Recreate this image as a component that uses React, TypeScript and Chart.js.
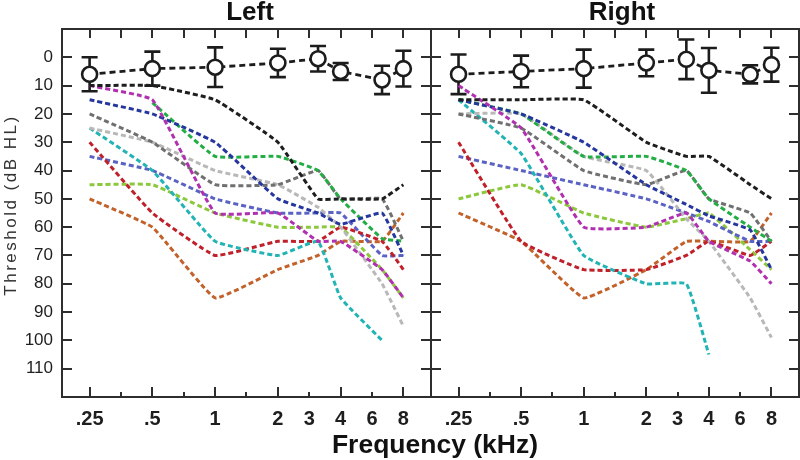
import React, { useEffect, useRef } from "react";
import { Chart, registerables } from "chart.js";

Chart.register(...registerables);

const FONT = "'Liberation Sans', Arial, Helvetica, sans-serif";
Chart.defaults.font.family = FONT;

// Tested frequencies (kHz) and their place on the audiogram octave axis
const freqs = [0.25, 0.5, 1, 2, 3, 4, 6, 8];
const freqPos = [0, 1, 2, 3, 3.64, 4, 4.66, 5];

// X-axis labels (octave positions) and tick positions
const xLabelPos = [0, 1, 2, 3, 3.5, 4, 4.5, 5];
const xLabelText = [".25", ".5", "1", "2", "3", "4", "6", "8"];
const xMajorPos = [0, 1, 2, 3, 4, 5];
const xMinorPos = [0.5, 1.5, 2.5, 3.5, 4.5];
const yTickValues = [0, 10, 20, 30, 40, 50, 60, 70, 80, 90, 100, 110];

// Group mean thresholds (dB HL) and SD
const meanLeft = [6, 4, 3.5, 2, 0.5, 5, 8, 4];
const sdLeft = [6, 6, 7, 5, 4.5, 3, 5, 6.3];
const meanRight = [6, 5, 4, 2, 0.7, 4.6, 6, 2.6];
const sdRight = [7, 5.6, 6.7, 4.7, 7, 7.9, 3.2, 6];

// Individual subject colours
const subjectColors = [
  "#1e1e1e", // black
  "#b030b0", // magenta
  "#25369e", // navy
  "#22ad45", // green
  "#707070", // dark grey
  "#b8b8b8", // light grey
  "#22b4b4", // cyan
  "#c0202a", // red
  "#5a62c4", // slate blue
  "#8cc83c", // lime
  "#c2622a", // orange
];

// Individual thresholds, left ear
const L_black = [10, 10, 15, 30, 50, 50, 50, 45];
const L_magenta = [10, 15, 55, 55, 65, 65, 75, 85];
const L_navy = [15, 20, 30, 50, 55, 59, 55, 70];
const L_green = [null, 16, 35, 35, 40, 50, 64, 65];
const L_grey = [20, 30, 45, 45, 40, 50, 50, 65];
const L_ltgrey = [25, 30, 40, 45, 53, 60, 80, 95];
const L_cyan = [25, 40, 65, 70, 65, 85, 100, null];
const L_red = [30, 55, 70, 65, 65, 60, 65, 75];
const L_slate = [35, 40, 50, 55, 55, 55, 70, 70];
const L_lime = [45, 45, 55, 60, 60, 60, 75, 85];
const L_orange = [50, 60, 85, 75, 70, 65, 65, 55];

// Individual thresholds, right ear
const R_black = [15, 15, 15, 30, 35, 35, 45, 50];
const R_magenta = [10, 25, 60, 60, 55, 65, 72, 80];
const R_navy = [15, 20, 30, 45, 52, 56, 61, 75];
const R_green = [15, 20, 35, 35, 40, 50, 60, 65];
const R_grey = [20, 25, 40, 45, 40, 50, 55, 65];
const R_ltgrey = [20, 20, 35, 40, 57, 65, 85, 99];
const R_cyan = [15, 34, 70, 80, 80, 105, null, null];
const R_red = [30, 65, 75, 75, 70, 65, 70, 65];
const R_slate = [35, 40, 45, 50, 55, 58, 65, 65];
const R_lime = [50, 45, 55, 60, 57, 55, 68, 75];
const R_orange = [55, 65, 85, 75, 65, 65, 65, 55];

const leftSubjects = [L_black, L_magenta, L_navy, L_green, L_grey, L_ltgrey, L_cyan, L_red, L_slate, L_lime, L_orange];
const rightSubjects = [R_black, R_magenta, R_navy, R_green, R_grey, R_ltgrey, R_cyan, R_red, R_slate, R_lime, R_orange];

const AXIS = "#2e2e2e";
const MEAN = "#1c1c1c";

const toPoints = (vals: (number | null)[]) =>
  freqs.map((f, i) => ({ x: freqPos[i], y: vals[i] as any, f }));

const errorBarPlugin = {
  id: "errorBars",
  beforeDatasetsDraw(chart: any) {
    const ds = chart.data.datasets[0] as any;
    const sds: number[] = ds.errors;
    if (!sds) return;
    const { ctx, scales } = chart;
    const x = scales.x, y = scales.y;
    ctx.save();
    ctx.strokeStyle = MEAN;
    ctx.lineWidth = 2.6;
    ctx.setLineDash([]);
    ds.data.forEach((p: any, i: number) => {
      const px = x.getPixelForValue(p.x);
      const yt = y.getPixelForValue(p.y - sds[i]);
      const yb = y.getPixelForValue(p.y + sds[i]);
      ctx.beginPath();
      ctx.moveTo(px, yt);
      ctx.lineTo(px, yb);
      ctx.moveTo(px - 8, yt);
      ctx.lineTo(px + 8, yt);
      ctx.moveTo(px - 8, yb);
      ctx.lineTo(px + 8, yb);
      ctx.stroke();
    });
    ctx.restore();
  },
};

const framePlugin = {
  id: "frame",
  afterDraw(chart: any) {
    const ctx = chart.ctx;
    const a = chart.chartArea;
    const x = chart.scales.x;
    const y = chart.scales.y;
    const L = Math.round(a.left), R = Math.round(a.right);
    const T = Math.round(a.top), B = Math.round(a.bottom);
    ctx.save();
    ctx.setLineDash([]);
    ctx.fillStyle = AXIS;
    // frame
    ctx.fillRect(L - 1, T - 1, R - L + 2, 2);
    ctx.fillRect(L - 1, B - 1, R - L + 2, 2);
    ctx.fillRect(L - 1, T - 1, 2, B - T + 2);
    ctx.fillRect(R - 1, T - 1, 2, B - T + 2);
    // y ticks, inward on both sides
    for (let i = 0; i < yTickValues.length; i++) {
      const py = Math.round(y.getPixelForValue(yTickValues[i]));
      ctx.fillRect(L, py - 1, 10, 2);
      ctx.fillRect(R - 10, py - 1, 10, 2);
    }
    // x ticks, inward on top and bottom
    for (let i = 0; i < xMajorPos.length; i++) {
      const px = Math.round(x.getPixelForValue(xMajorPos[i]));
      ctx.fillRect(px - 1, B - 10, 2, 10);
      ctx.fillRect(px - 1, T, 2, 9);
    }
    for (let i = 0; i < xMinorPos.length; i++) {
      const px = Math.round(x.getPixelForValue(xMinorPos[i]));
      ctx.fillRect(px - 1, B - 5, 2, 5);
      ctx.fillRect(px - 1, T, 2, 9);
    }
    ctx.restore();
  },
};

type PanelProps = {
  mean: number[];
  sd: number[];
  subjects: (number | null)[][];
  showY: boolean;
  left: number;
  width: number;
};

function Panel({ mean, sd, subjects, showY, left, width }: PanelProps) {
  const ref = useRef<HTMLCanvasElement>(null);
  useEffect(() => {
    const meanDs: any = {
      data: toPoints(mean),
      errors: sd,
      borderColor: MEAN,
      borderWidth: 2.8,
      borderDash: [6, 4],
      pointRadius: 7.5,
      pointBorderWidth: 2.6,
      pointBorderColor: MEAN,
      pointBackgroundColor: "#ffffff",
      tension: 0,
    };
    const subjDs = subjects.map((vals, i) => ({
      data: toPoints(vals),
      borderColor: subjectColors[i],
      borderWidth: 3,
      borderDash: [5, 3],
      pointRadius: 0,
      tension: 0.1,
      spanGaps: false,
    }));
    const chart = new Chart(ref.current!, {
      type: "line",
      data: { datasets: [meanDs, ...subjDs] },
      options: {
        animation: false,
        responsive: false,
        devicePixelRatio: 1,
        events: [],
        layout: { autoPadding: false, padding: { top: 29, right: 1, left: 0, bottom: 0 } },
        plugins: { legend: { display: false }, tooltip: { enabled: false }, title: { display: false } },
        scales: {
          x: {
            type: "linear",
            min: -0.44,
            max: 5.44,
            grid: { display: false, drawTicks: false },
            border: { display: false },
            afterBuildTicks: (s: any) => {
              s.ticks = xLabelPos.map((v) => ({ value: v }));
            },
            afterFit: (s: any) => {
              s.height = 63;
              s.paddingLeft = 0;
              s.paddingRight = 0;
            },
            ticks: {
              autoSkip: false,
              maxRotation: 0,
              padding: 10,
              color: "#1e1e1e",
              font: { size: 20, weight: "bold", family: FONT },
              callback: (_v: any, i: number) => xLabelText[i],
            },
          },
          y: {
            type: "linear",
            reverse: true,
            min: -10,
            max: 120,
            grid: { display: false, drawTicks: false },
            border: { display: false },
            afterBuildTicks: (s: any) => {
              s.ticks = yTickValues.map((v) => ({ value: v }));
            },
            afterFit: (s: any) => {
              s.width = showY ? 62 : 0;
              s.paddingTop = 0;
              s.paddingBottom = 0;
            },
            ticks: {
              display: showY,
              padding: 9,
              color: "#1e1e1e",
              font: { size: 17, family: FONT },
              callback: (v: any) => String(v),
            },
          },
        },
      } as any,
      plugins: [errorBarPlugin, framePlugin],
    });
    return () => chart.destroy();
  }, []);
  return (
    <canvas
      ref={ref}
      width={width}
      height={460}
      style={{ position: "absolute", left, top: 0, width, height: 460 }}
    />
  );
}

const textBase: React.CSSProperties = {
  position: "absolute",
  fontFamily: FONT,
  color: "#111",
  textAlign: "center",
  whiteSpace: "nowrap",
};

export default function App() {
  return (
    <div
      style={{
        position: "absolute",
        left: 0,
        top: 0,
        width: 800,
        height: 460,
        background: "#ffffff",
        overflow: "hidden",
      }}
    >
      <Panel mean={meanLeft} sd={sdLeft} subjects={leftSubjects} showY={true} left={0} width={432} />
      <Panel mean={meanRight} sd={sdRight} subjects={rightSubjects} showY={false} left={431} width={369} />
      <div style={{ ...textBase, left: 150, width: 200, top: -2, fontSize: 26, lineHeight: "26px", fontWeight: "bold" }}>
        Left
      </div>
      <div style={{ ...textBase, left: 522, width: 200, top: -2, fontSize: 26, lineHeight: "26px", fontWeight: "bold" }}>
        Right
      </div>
      <div
        style={{
          ...textBase,
          left: 285,
          width: 300,
          top: 432,
          fontSize: 25,
          lineHeight: "25px",
          fontWeight: "bold",
          transform: "scaleX(1.06)",
        }}
      >
        Frequency (kHz)
      </div>
      <div
        style={{
          ...textBase,
          left: 11 - 130,
          width: 260,
          top: 205 - 10,
          height: 20,
          fontSize: 17,
          lineHeight: "20px",
          color: "#333",
          letterSpacing: "2.5px",
          transform: "rotate(-90deg)",
        }}
      >
        Threshold (dB HL)
      </div>
    </div>
  );
}
